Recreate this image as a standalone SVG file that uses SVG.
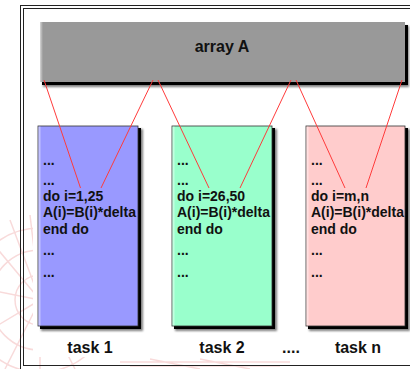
<svg xmlns="http://www.w3.org/2000/svg" width="410" height="369" viewBox="0 0 410 369">
  <defs>
    <filter id="sh" x="-10%" y="-10%" width="130%" height="130%">
      <feGaussianBlur stdDeviation="1"/>
    </filter>
    <linearGradient id="edge" x1="0" x2="1" y1="0" y2="0">
      <stop offset="0" stop-color="#ffffff" stop-opacity="0.6"/>
      <stop offset="1" stop-color="#ffffff" stop-opacity="0"/>
    </linearGradient>
  </defs>
  <style>
    .frame { fill: none; stroke: #222; stroke-width: 1; }
    .blur { fill: #000; opacity: 0.5; filter: url(#sh); }
    .shadow { fill: #000; }
    .box { stroke: #333; stroke-width: 0.8; }
    .code { font-family: "Liberation Sans", Arial, sans-serif; font-weight: bold; font-size: 14px; fill: #111; }
    .label { font-family: "Liberation Sans", Arial, sans-serif; font-weight: bold; font-size: 16px; fill: #111; text-anchor: middle; }
    .conn { stroke: #ff3b3b; stroke-width: 1; fill: none; }
    .wm { stroke: #f7d4d4; stroke-width: 1.5; fill: none; }
  </style>

  <rect width="410" height="369" fill="#ffffff"/>

  <!-- faint watermark -->
  <g id="watermark" opacity="0.85">
    <path class="wm" d="M40 300 L-10 240 M40 300 L10 220 M40 300 L30 215 M40 300 L60 215 M40 300 L85 230 M40 300 L100 260 M40 300 L110 300 M40 300 L100 345 M40 300 L75 369 M40 300 L40 369 M40 300 L5 369 M40 300 L-10 330 M40 300 L-10 290"/>
    <circle class="wm" cx="40" cy="300" r="25"/>
    <circle class="wm" cx="40" cy="300" r="50"/>
    <circle class="wm" cx="40" cy="300" r="72"/>
    <path class="wm" d="M120 362 L290 362 M130 366 L280 366 M150 359 L200 369 M200 359 L250 369"/>
  </g>
  <rect x="33" y="10" width="377" height="347" fill="#ffffff"/>

  <!-- frame -->
  <rect class="frame" x="20.5" y="5.5" width="400" height="380"/>
  <rect class="frame" x="23.5" y="8.5" width="400" height="357"/>

  <!-- array A -->
  <g id="arrayA">
    <rect class="blur" x="43" y="26" width="366" height="61"/>
    <rect class="shadow" x="42" y="25" width="366" height="60"/>
    <rect x="40" y="22" width="365" height="60" fill="#999999"/>
    <rect x="40" y="22" width="3" height="60" fill="url(#edge)"/>
    <text class="label" x="222" y="52">array A</text>
  </g>

  <!-- task 1 -->
  <g id="task1">
    <rect class="blur" x="41" y="129" width="102" height="202"/>
    <rect class="shadow" x="40" y="128" width="101" height="201"/>
    <rect class="box" x="38" y="126" width="100" height="200" fill="#9999ff"/>
    <rect x="38.5" y="126.5" width="3" height="199" fill="url(#edge)"/>
    <text class="code" x="43" y="165">...</text>
    <text class="code" x="43" y="185">...</text>
    <text class="code" x="43" y="200.5">do i=1,25</text>
    <text class="code" x="43" y="217">A(i)=B(i)*delta</text>
    <text class="code" x="43" y="233.5">end do</text>
    <text class="code" x="43" y="255">...</text>
    <text class="code" x="43" y="276.5">...</text>
    <text class="label" x="90" y="353">task 1</text>
  </g>

  <!-- task 2 -->
  <g id="task2">
    <rect class="blur" x="175" y="129" width="102" height="202"/>
    <rect class="shadow" x="174" y="128" width="101" height="201"/>
    <rect class="box" x="172" y="126" width="100" height="200" fill="#99ffcc"/>
    <rect x="172.5" y="126.5" width="3" height="199" fill="url(#edge)"/>
    <text class="code" x="177" y="165">...</text>
    <text class="code" x="177" y="185">...</text>
    <text class="code" x="177" y="200.5">do i=26,50</text>
    <text class="code" x="177" y="217">A(i)=B(i)*delta</text>
    <text class="code" x="177" y="233.5">end do</text>
    <text class="code" x="177" y="255">...</text>
    <text class="code" x="177" y="276.5">...</text>
    <text class="label" x="222" y="353">task 2</text>
  </g>

  <!-- ellipsis -->
  <g id="ellipsis">
    <text class="label" x="291" y="353">....</text>
  </g>

  <!-- task n -->
  <g id="taskn">
    <rect class="blur" x="309" y="129" width="101" height="202"/>
    <rect class="shadow" x="308" y="128" width="100" height="201"/>
    <rect class="box" x="306" y="126" width="99" height="200" fill="#ffcccc"/>
    <rect x="306.5" y="126.5" width="3" height="199" fill="url(#edge)"/>
    <text class="code" x="311" y="165">...</text>
    <text class="code" x="311" y="185">...</text>
    <text class="code" x="311" y="200.5">do i=m,n</text>
    <text class="code" x="311" y="217">A(i)=B(i)*delta</text>
    <text class="code" x="311" y="233.5">end do</text>
    <text class="code" x="311" y="255">...</text>
    <text class="code" x="311" y="276.5">...</text>
    <text class="label" x="358" y="353">task n</text>
  </g>

  <!-- connectors -->
  <g id="connectors">
    <line class="conn" x1="44" y1="80" x2="80.5" y2="188"/>
    <line class="conn" x1="153" y1="80" x2="101" y2="188"/>
    <line class="conn" x1="158" y1="80" x2="209" y2="188"/>
    <line class="conn" x1="291" y1="80" x2="240" y2="188"/>
    <line class="conn" x1="296" y1="80" x2="345" y2="188"/>
    <line class="conn" x1="402" y1="80" x2="366" y2="188"/>
  </g>
</svg>
